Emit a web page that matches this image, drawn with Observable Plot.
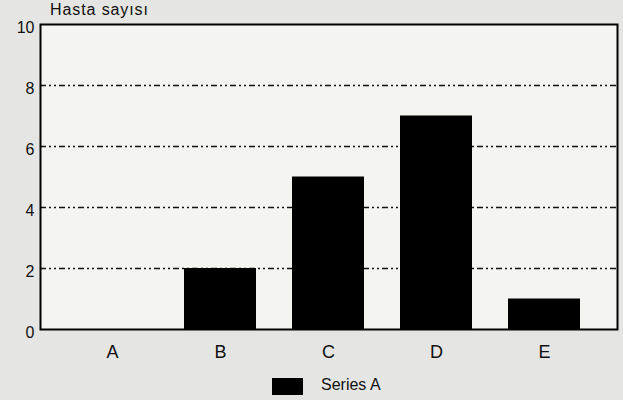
<!DOCTYPE html>
<html>
<head>
<meta charset="utf-8">
<script src="https://cdn.jsdelivr.net/npm/d3@7"></script>
<script src="https://cdn.jsdelivr.net/npm/@observablehq/plot@0.6"></script>
<style>
  html, body { margin: 0; padding: 0; background: #e5e5e3; }
  body { width: 623px; height: 400px; overflow: hidden; position: relative; font-family: "Liberation Sans", Arial, sans-serif; color: #111; }
  #title { position: absolute; left: 50px; top: 1px; font-size: 16px; letter-spacing: 0.9px; z-index: 2; }
  #chart { position: absolute; left: 0; top: 0; }
  #legend .sw { position: absolute; left: 272px; top: 378px; width: 31px; height: 17px; background: #000; }
  #legend .lb { position: absolute; left: 321px; top: 376px; font-size: 16px; }
  .bars g[aria-label="y-axis tick label"] { font-size: 16px; }
  .bars g[aria-label="x-axis tick label"] { font-size: 18px; }
</style>
</head>
<body>
<div id="title">Hasta sayısı</div>
<div id="chart"></div>
<div id="legend"><div class="sw"></div><div class="lb">Series A</div></div>
<script>
// Patient counts per group
const categories = ["A", "B", "C", "D", "E"];
const values = [0, 2, 5, 7, 1];
const yTicks = [0, 2, 4, 6, 8, 10];
const gridLevels = [2, 4, 6, 8];
const seriesName = "Series A";

const data = categories.map((c, i) => ({category: c, value: values[i], series: seriesName}));

const chart = Plot.plot({
  className: "bars",
  width: 623,
  height: 372,
  marginTop: 24,
  marginLeft: 40,
  marginRight: 6,
  marginBottom: 43,
  style: {background: "transparent", fontFamily: "Liberation Sans, Arial, sans-serif", color: "#111"},
  x: {domain: categories, paddingInner: 0.33, paddingOuter: 0.324, label: null},
  y: {domain: [0, 10], label: null},
  marks: [
    Plot.frame({fill: "#f4f4f2"}),
    Plot.ruleY(gridLevels, {stroke: "#111", strokeWidth: 1.6, strokeDasharray: "6,3,2,3,2,3"}),
    Plot.barY(data, {x: "category", y: "value", fill: "#000"}),
    Plot.frame({stroke: "#000", strokeWidth: 2}),
    Plot.axisY({ticks: yTicks, tickSize: 0, tickPadding: 6, dy: 3}),
    Plot.axisX({tickSize: 0, tickPadding: 16})
  ]
});
document.getElementById("chart").append(chart);
</script>
</body>
</html>
